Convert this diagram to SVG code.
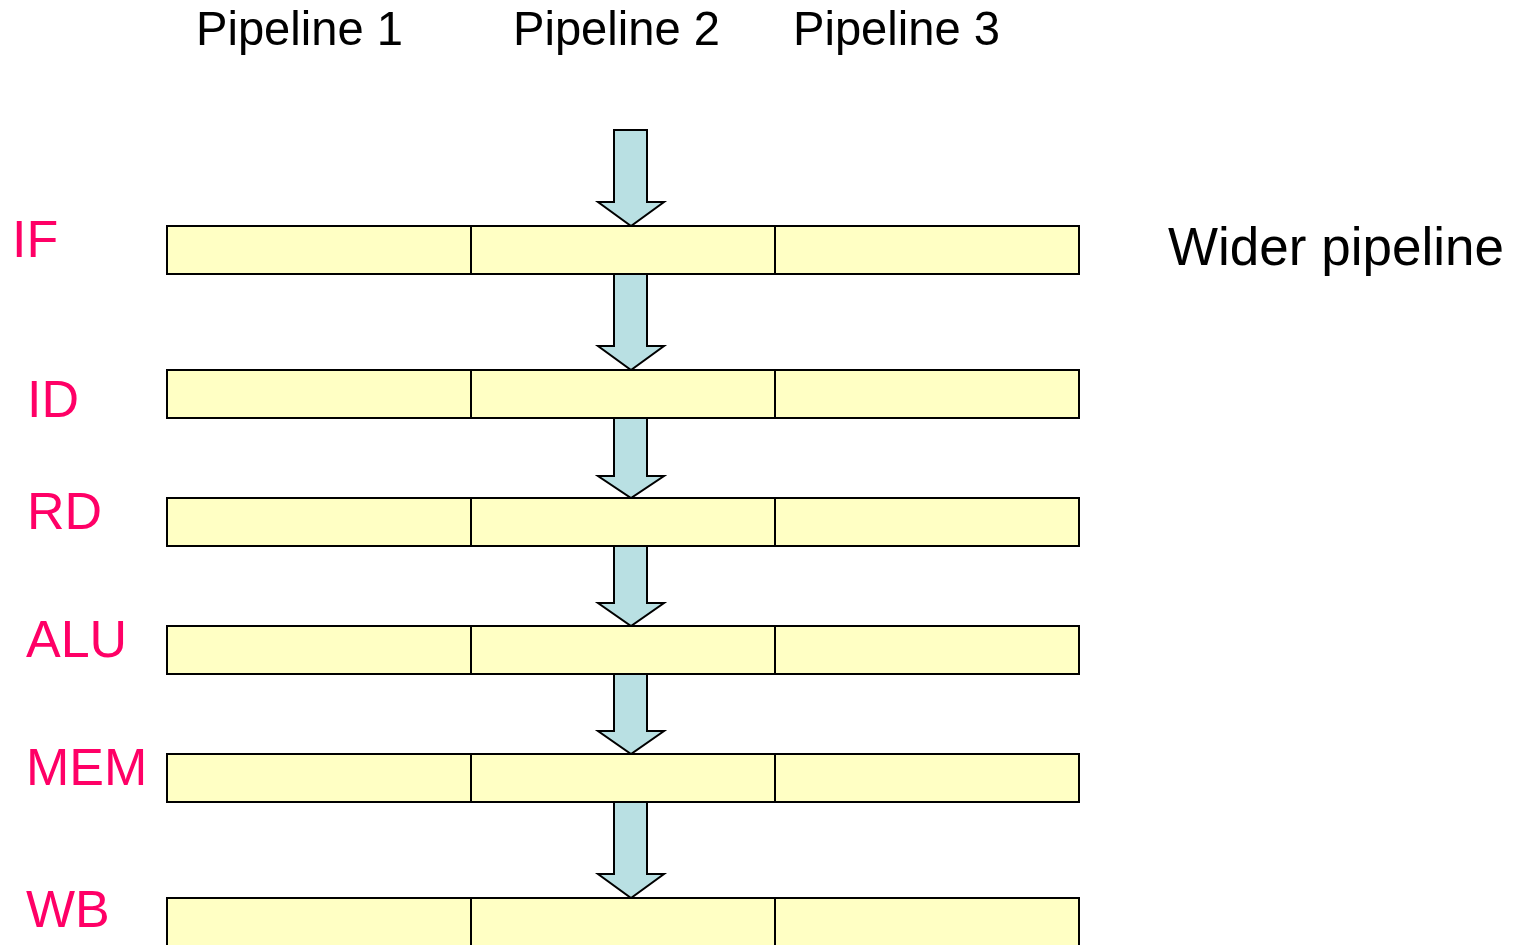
<svg xmlns="http://www.w3.org/2000/svg" width="1521" height="945" viewBox="0 0 1521 945">
  <style>
    .bar { fill: #FFFFC4; stroke: #000; stroke-width: 2; }
    .div { stroke: #000; stroke-width: 2; }
    .flow { fill: #B9E0E3; stroke: #000; stroke-width: 2; stroke-linejoin: miter; }
    .head { font-family: "Liberation Sans", Arial, sans-serif; font-size: 49px; fill: #000; }
    .stage { font-family: "Liberation Sans", Arial, sans-serif; font-size: 52px; fill: #FF0066; }
    .note { font-family: "Liberation Sans", Arial, sans-serif; font-size: 53px; fill: #000; }
  </style>
  <rect width="1521" height="945" fill="#fff"/>

  <!-- column headings -->
  <g id="headings">
    <text class="head" x="196" y="45" textLength="207" lengthAdjust="spacingAndGlyphs">Pipeline 1</text>
    <text class="head" x="513" y="45" textLength="207" lengthAdjust="spacingAndGlyphs">Pipeline 2</text>
    <text class="head" x="793" y="45" textLength="207" lengthAdjust="spacingAndGlyphs">Pipeline 3</text>
  </g>

  <text id="wider" class="note" x="1168" y="265" textLength="336" lengthAdjust="spacingAndGlyphs">Wider pipeline</text>

  <!-- flow arrows between stages -->
  <g id="connectors">
    <polygon class="flow" points="614,130 647,130 647,202 664,202 631,226 598,202 614,202"/>
    <polygon class="flow" points="614,274 647,274 647,346 664,346 631,370 598,346 614,346"/>
    <polygon class="flow" points="614,418 647,418 647,476 664,476 631,498 598,476 614,476"/>
    <polygon class="flow" points="614,546 647,546 647,603 664,603 631,626 598,603 614,603"/>
    <polygon class="flow" points="614,674 647,674 647,731 664,731 631,754 598,731 614,731"/>
    <polygon class="flow" points="614,802 647,802 647,874 664,874 631,898 598,874 614,874"/>
  </g>

  <!-- stage rows -->
  <g id="stage-if">
    <rect class="bar" x="167" y="226" width="912" height="48"/>
    <line class="div" x1="471" y1="226" x2="471" y2="274"/>
    <line class="div" x1="775" y1="226" x2="775" y2="274"/>
    <text class="stage" x="12" y="257">IF</text>
  </g>
  <g id="stage-id">
    <rect class="bar" x="167" y="370" width="912" height="48"/>
    <line class="div" x1="471" y1="370" x2="471" y2="418"/>
    <line class="div" x1="775" y1="370" x2="775" y2="418"/>
    <text class="stage" x="27" y="417">ID</text>
  </g>
  <g id="stage-rd">
    <rect class="bar" x="167" y="498" width="912" height="48"/>
    <line class="div" x1="471" y1="498" x2="471" y2="546"/>
    <line class="div" x1="775" y1="498" x2="775" y2="546"/>
    <text class="stage" x="27" y="529">RD</text>
  </g>
  <g id="stage-alu">
    <rect class="bar" x="167" y="626" width="912" height="48"/>
    <line class="div" x1="471" y1="626" x2="471" y2="674"/>
    <line class="div" x1="775" y1="626" x2="775" y2="674"/>
    <text class="stage" x="26" y="657">ALU</text>
  </g>
  <g id="stage-mem">
    <rect class="bar" x="167" y="754" width="912" height="48"/>
    <line class="div" x1="471" y1="754" x2="471" y2="802"/>
    <line class="div" x1="775" y1="754" x2="775" y2="802"/>
    <text class="stage" x="26" y="785">MEM</text>
  </g>
  <g id="stage-wb">
    <rect class="bar" x="167" y="898" width="912" height="60"/>
    <line class="div" x1="471" y1="898" x2="471" y2="945"/>
    <line class="div" x1="775" y1="898" x2="775" y2="945"/>
    <text class="stage" x="26" y="927">WB</text>
  </g>
</svg>
